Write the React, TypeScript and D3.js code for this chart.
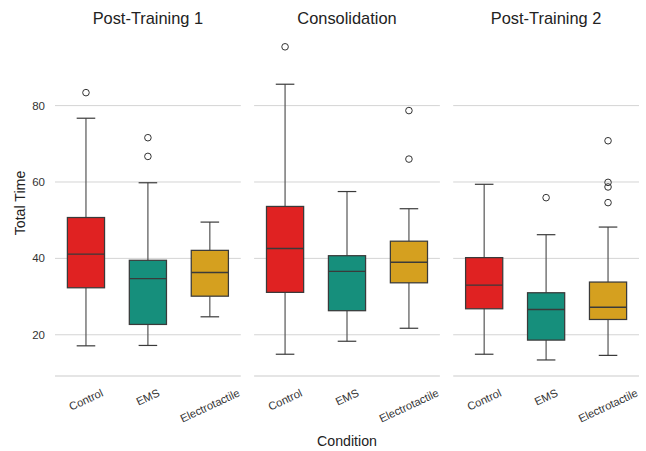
import React, { useRef, useEffect } from 'react';
import * as d3 from 'd3';

const phases = ['Post-Training 1', 'Consolidation', 'Post-Training 2'];
const conditions = ['Control', 'EMS', 'Electrotactile'];
const colors = ['#e02222', '#168f7c', '#d5a01f'];
const yTicks = [20, 40, 60, 80];

// per phase, per condition
const whiskerLow = [[17.1, 17.2, 24.7], [14.9, 18.3, 21.7], [14.9, 13.4, 14.6]];
const q1 = [[32.3, 22.7, 30.1], [31.1, 26.3, 33.6], [26.8, 18.6, 24.0]];
const median = [[41.1, 34.7, 36.3], [42.6, 36.6, 39.0], [33.0, 26.6, 27.2]];
const q3 = [[50.7, 39.5, 42.1], [53.6, 40.7, 44.5], [40.2, 31.0, 33.8]];
const whiskerHigh = [[76.7, 59.8, 49.5], [85.6, 57.5, 53.0], [59.4, 46.2, 48.2]];
const outliers = [
  [[83.4], [71.6, 66.7], []],
  [[95.4], [], [78.7, 66.0]],
  [[], [55.9], [70.8, 59.9, 58.7, 54.6]],
];

const App = () => {
  const d3Container = useRef(null);

  useEffect(() => {
    if (!d3Container.current) return;
    document.body.style.margin = '0';
    d3.select(d3Container.current).select('svg').remove();

    const W = 646, H = 451;
    const margin = { top: 30, right: 7, bottom: 75, left: 55 };
    const gap = 13.3;
    const panelW = (W - margin.left - margin.right - 2 * gap) / 3;
    const font = '"Liberation Sans", Arial, sans-serif';

    const svg = d3.select(d3Container.current)
      .append('svg')
      .attr('width', W)
      .attr('height', H)
      .style('display', 'block')
      .style('font-family', font);

    svg.append('rect').attr('width', W).attr('height', H).attr('fill', '#fff');

    const y = d3.scaleLinear()
      .domain([9.2, 99.8])
      .range([H - margin.bottom, margin.top]);

    const x = d3.scaleBand()
      .domain(conditions)
      .range([0, panelW])
      .padding(0);

    const boxW = x.bandwidth() * 0.6;
    const rot = 25;

    phases.forEach((phase, p) => {
      const g = svg.append('g')
        .attr('transform', `translate(${margin.left + p * (panelW + gap)},0)`);

      // gridlines
      g.selectAll('line.grid')
        .data(yTicks)
        .join('line')
        .attr('x1', 0).attr('x2', panelW)
        .attr('y1', d => y(d)).attr('y2', d => y(d))
        .attr('stroke', '#d4d4d4').attr('stroke-width', 1);

      // bottom spine
      g.append('line')
        .attr('x1', 0).attr('x2', panelW)
        .attr('y1', y.range()[0]).attr('y2', y.range()[0])
        .attr('stroke', '#cccccc').attr('stroke-width', 1.2);

      if (p === 0) {
        g.selectAll('text.ytick')
          .data(yTicks)
          .join('text')
          .attr('x', -10)
          .attr('y', d => y(d))
          .attr('dy', '0.35em')
          .attr('text-anchor', 'end')
          .attr('font-size', 11.5)
          .attr('fill', '#333')
          .text(d => d);
      }

      g.append('text')
        .attr('x', panelW / 2)
        .attr('y', 24)
        .attr('text-anchor', 'middle')
        .attr('font-size', 16.4)
        .attr('fill', '#222')
        .text(phase);

      conditions.forEach((c, i) => {
        const cx = x(c) + x.bandwidth() / 2;
        const wline = '#555';
        // whiskers
        g.append('line')
          .attr('x1', cx).attr('x2', cx)
          .attr('y1', y(q3[p][i])).attr('y2', y(whiskerHigh[p][i]))
          .attr('stroke', wline).attr('stroke-width', 1.2);
        g.append('line')
          .attr('x1', cx).attr('x2', cx)
          .attr('y1', y(q1[p][i])).attr('y2', y(whiskerLow[p][i]))
          .attr('stroke', wline).attr('stroke-width', 1.2);
        [whiskerHigh[p][i], whiskerLow[p][i]].forEach(v => {
          g.append('line')
            .attr('x1', cx - boxW / 4).attr('x2', cx + boxW / 4)
            .attr('y1', y(v)).attr('y2', y(v))
            .attr('stroke', '#3a3a3a').attr('stroke-width', 1.2);
        });
        // box
        g.append('rect')
          .attr('x', cx - boxW / 2)
          .attr('width', boxW)
          .attr('y', y(q3[p][i]))
          .attr('height', y(q1[p][i]) - y(q3[p][i]))
          .attr('fill', colors[i])
          .attr('stroke', '#3a3a3a')
          .attr('stroke-width', 1.25);
        g.append('line')
          .attr('x1', cx - boxW / 2).attr('x2', cx + boxW / 2)
          .attr('y1', y(median[p][i])).attr('y2', y(median[p][i]))
          .attr('stroke', '#3a3a3a').attr('stroke-width', 1.4);
        // outliers
        g.selectAll(null)
          .data(outliers[p][i])
          .join('circle')
          .attr('cx', cx)
          .attr('cy', d => y(d))
          .attr('r', 3.3)
          .attr('fill', 'none')
          .attr('stroke', '#333')
          .attr('stroke-width', 1);

        // x tick label, rotated, bbox top aligned
        const t = g.append('text')
          .attr('text-anchor', 'middle')
          .attr('dominant-baseline', 'central')
          .attr('font-size', 11.2)
          .attr('fill', '#333')
          .text(c);
        const w = (t.node() as SVGTextElement).getComputedTextLength();
        const h = 11;
        const a = rot * Math.PI / 180;
        const bh = w * Math.sin(a) + h * Math.cos(a);
        const ty = 387 + bh / 2;
        t.attr('transform', `translate(${cx},${ty}) rotate(${-rot})`);
      });
    });

    svg.append('text')
      .attr('transform', `translate(20,${(y.range()[0] + y.range()[1]) / 2}) rotate(-90)`)
      .attr('text-anchor', 'middle')
      .attr('dominant-baseline', 'central')
      .attr('font-size', 14.2)
      .attr('fill', '#222')
      .text('Total Time');

    svg.append('text')
      .attr('x', margin.left + (W - margin.left - margin.right) / 2)
      .attr('y', 446)
      .attr('text-anchor', 'middle')
      .attr('font-size', 14.2)
      .attr('fill', '#222')
      .text('Condition');
  }, []);

  return <div className="chart-container" ref={d3Container}></div>;
};

export default App;
